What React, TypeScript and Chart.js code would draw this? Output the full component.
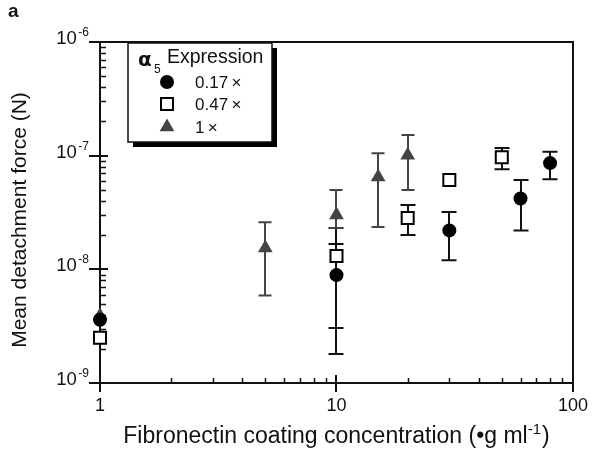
import React, { useEffect, useRef } from "react";
import { Chart, registerables } from "chart.js";
Chart.register(...registerables);

// ---- data ----
const seriesLabels = ["0.17\u2009×", "0.47\u2009×", "1\u2009×"];
const circleX = [1, 10, 30, 60, 80];
const circleY = [3.6e-9, 8.9e-9, 2.2e-8, 4.2e-8, 8.6e-8];
const circleLow = [null, 1.8e-9, 1.2e-8, 2.2e-8, 6.2e-8];
const circleHigh = [null, 1.67e-8, 3.2e-8, 6.1e-8, 1.08e-7];
const squareX = [1, 10, 20, 30, 50];
const squareY = [2.5e-9, 1.31e-8, 2.83e-8, 6.1e-8, 9.7e-8];
const squareLow = [null, 3.05e-9, 2.0e-8, null, 7.6e-8];
const squareHigh = [null, 2.31e-8, 3.68e-8, null, 1.17e-7];
const triangleX = [1, 5, 10, 15, 20];
const triangleY = [3.9e-9, 1.54e-8, 3.0e-8, 6.5e-8, 1.01e-7];
const triangleLow = [null, 5.9e-9, 2.31e-8, 2.36e-8, 4.98e-8];
const triangleHigh = [null, 2.6e-8, 4.98e-8, 1.05e-7, 1.52e-7];
const xTickValues = [1, 10, 100];
const xTickLabels = ["1", "10", "100"];
const yTickValues = [1e-9, 1e-8, 1e-7, 1e-6];
const yTickBase = "10";
const yTickExponents = ["-9", "-8", "-7", "-6"];
const xTitleMain = "Fibronectin coating concentration (•g ml";
const xTitleSup = "-1";
const xTitleEnd = ")";
const yTitle = "Mean detachment force (N)";
const legendGreek = "α";
const legendSub = "5";
const legendTitle = "Expression";
const panelLabel = "a";

const FAMILY = '"Liberation Sans", Arial, Helvetica, sans-serif';
const INK = "#111";
const TRI = "#444";

const errorSets = [
  { xs: circleX, low: circleLow, high: circleHigh, color: INK, cap: 7.5 },
  { xs: squareX, low: squareLow, high: squareHigh, color: INK, cap: 7.5 },
  { xs: triangleX, low: triangleLow, high: triangleHigh, color: TRI, cap: 6.5 },
];

const decorPlugin = {
  id: "decor",
  beforeDatasetsDraw(chart: any) {
    const ctx = chart.ctx as CanvasRenderingContext2D;
    const xs = chart.scales.x;
    const ys = chart.scales.y;
    const { left, right, top, bottom } = chart.chartArea;
    ctx.save();
    ctx.strokeStyle = INK;
    ctx.lineWidth = 2;
    ctx.strokeRect(left, top, right - left, bottom - top);

    // x ticks
    ctx.lineWidth = 1.5;
    for (let d = 1; d < 100; d *= 10) {
      for (let m = 2; m <= 9; m++) {
        const px = Math.round(xs.getPixelForValue(d * m)) + 0.5;
        ctx.beginPath();
        ctx.moveTo(px, bottom);
        ctx.lineTo(px, bottom - 5);
        ctx.stroke();
      }
    }
    ctx.lineWidth = 2;
    xTickValues.forEach((v) => {
      const px = Math.round(xs.getPixelForValue(v));
      ctx.beginPath();
      ctx.moveTo(px, bottom - 8);
      ctx.lineTo(px, bottom + 9);
      ctx.stroke();
    });
    // y ticks
    ctx.lineWidth = 1.5;
    for (let d = 1e-9; d < 1e-6 * 0.99; d *= 10) {
      for (let m = 2; m <= 9; m++) {
        const py = Math.round(ys.getPixelForValue(d * m)) + 0.5;
        ctx.beginPath();
        ctx.moveTo(left, py);
        ctx.lineTo(left + 6, py);
        ctx.stroke();
      }
    }
    ctx.lineWidth = 2;
    yTickValues.forEach((v, i) => {
      const py = Math.round(ys.getPixelForValue(v));
      ctx.beginPath();
      ctx.moveTo(left - 11, py);
      ctx.lineTo(left + 8, py);
      ctx.stroke();
      // label 10^exp
      ctx.fillStyle = INK;
      ctx.textAlign = "right";
      ctx.textBaseline = "alphabetic";
      ctx.font = `12px ${FAMILY}`;
      const ew = ctx.measureText(yTickExponents[i]).width;
      const rx = left - 11;
      ctx.fillText(yTickExponents[i], rx, py - 6);
      ctx.font = `18.5px ${FAMILY}`;
      ctx.fillText(yTickBase, rx - ew - 1.5, py + 2);
    });

    // error bars
    errorSets.forEach((es) => {
      ctx.strokeStyle = es.color;
      ctx.lineWidth = 2;
      es.xs.forEach((xv, j) => {
        const lo = es.low[j];
        const hi = es.high[j];
        if (lo == null || hi == null) return;
        const px = Math.round(xs.getPixelForValue(xv));
        const pl = ys.getPixelForValue(lo);
        const ph = ys.getPixelForValue(hi);
        ctx.beginPath();
        ctx.moveTo(px, pl);
        ctx.lineTo(px, ph);
        ctx.moveTo(px - es.cap, pl);
        ctx.lineTo(px + es.cap, pl);
        ctx.moveTo(px - es.cap, ph);
        ctx.lineTo(px + es.cap, ph);
        ctx.stroke();
      });
    });

    // axis titles
    ctx.fillStyle = INK;
    ctx.textBaseline = "middle";
    ctx.textAlign = "left";
    ctx.font = `23px ${FAMILY}`;
    const mw = ctx.measureText(xTitleMain).width;
    ctx.font = `15px ${FAMILY}`;
    const sw = ctx.measureText(xTitleSup).width;
    ctx.font = `23px ${FAMILY}`;
    const endw = ctx.measureText(xTitleEnd).width;
    const total = mw + sw + 1 + endw;
    const cx = (left + right) / 2;
    let tx = cx - total / 2;
    const ty = 437;
    ctx.fillText(xTitleMain, tx, ty);
    tx += mw;
    ctx.font = `15px ${FAMILY}`;
    ctx.fillText(xTitleSup, tx, ty - 7);
    tx += sw + 1;
    ctx.font = `23px ${FAMILY}`;
    ctx.fillText(xTitleEnd, tx, ty);

    ctx.save();
    ctx.translate(20, 220);
    ctx.rotate(-Math.PI / 2);
    ctx.textAlign = "center";
    ctx.font = `21px ${FAMILY}`;
    ctx.fillText(yTitle, 0, 0);
    ctx.restore();

    // panel label
    ctx.textAlign = "left";
    ctx.textBaseline = "alphabetic";
    ctx.font = `bold 19px ${FAMILY}`;
    ctx.fillText(panelLabel, 8, 17);
    ctx.restore();
  },
  afterDatasetsDraw(chart: any) {
    const ctx = chart.ctx as CanvasRenderingContext2D;
    ctx.save();
    // legend box with shadow
    const bx = 128, by = 43, bw = 144, bh = 99, off = 5;
    ctx.fillStyle = "#000";
    ctx.fillRect(bx + off, by + off, bw, bh);
    ctx.fillStyle = "#fff";
    ctx.fillRect(bx, by, bw, bh);
    ctx.strokeStyle = INK;
    ctx.lineWidth = 1.5;
    ctx.strokeRect(bx, by, bw, bh);

    ctx.fillStyle = INK;
    ctx.textAlign = "left";
    ctx.textBaseline = "alphabetic";
    ctx.font = `bold 20px "DejaVu Sans", "Liberation Sans", sans-serif`;
    ctx.fillText(legendGreek, 138, 66);
    ctx.font = `12px ${FAMILY}`;
    ctx.fillText(legendSub, 154, 73);
    ctx.font = `19.5px ${FAMILY}`;
    ctx.fillText(legendTitle, 167, 63);

    const mx = 167;
    const rows = [82, 104, 127];
    // circle
    ctx.fillStyle = "#000";
    ctx.beginPath();
    ctx.arc(mx, rows[0], 7, 0, Math.PI * 2);
    ctx.fill();
    // square
    ctx.fillStyle = "#fff";
    ctx.strokeStyle = "#000";
    ctx.lineWidth = 2;
    ctx.fillRect(mx - 6, rows[1] - 6, 12, 12);
    ctx.strokeRect(mx - 6, rows[1] - 6, 12, 12);
    // triangle
    ctx.fillStyle = TRI;
    ctx.beginPath();
    const r = 8.5;
    ctx.moveTo(mx, rows[2] - r);
    ctx.lineTo(mx + r * 0.866, rows[2] + r / 2);
    ctx.lineTo(mx - r * 0.866, rows[2] + r / 2);
    ctx.closePath();
    ctx.fill();

    ctx.fillStyle = INK;
    ctx.textBaseline = "middle";
    ctx.font = `17px ${FAMILY}`;
    seriesLabels.forEach((lab, i) => ctx.fillText(lab, 195, rows[i] + 1));
    ctx.restore();
  },
};

export default function App() {
  const ref = useRef<HTMLCanvasElement | null>(null);
  useEffect(() => {
    const canvas = ref.current;
    if (!canvas) return;
    const toPts = (xs: number[], ys: number[]) => xs.map((x, i) => ({ x, y: ys[i] }));
    const chart = new Chart(canvas, {
      type: "scatter",
      data: {
        datasets: [
          {
            label: seriesLabels[0],
            data: toPts(circleX, circleY),
            pointStyle: "circle",
            pointRadius: 7,
            backgroundColor: "#000",
            borderColor: "#000",
            borderWidth: 0,
            clip: false,
          },
          {
            label: seriesLabels[1],
            data: toPts(squareX, squareY),
            pointStyle: "rect",
            pointRadius: 8.5,
            backgroundColor: "#fff",
            borderColor: "#000",
            borderWidth: 2,
            clip: false,
          },
          {
            label: seriesLabels[2],
            data: toPts(triangleX, triangleY),
            pointStyle: "triangle",
            pointRadius: 8.5,
            backgroundColor: TRI,
            borderColor: TRI,
            borderWidth: 0,
            clip: false,
          },
        ] as any,
      },
      options: {
        animation: false,
        responsive: false,
        devicePixelRatio: 1,
        events: [],
        layout: { padding: { left: 0, right: 20, top: 42, bottom: 0 } },
        plugins: { legend: { display: false }, tooltip: { enabled: false } },
        scales: {
          x: {
            type: "logarithmic",
            min: 1,
            max: 100,
            position: "bottom",
            grid: { display: false, drawTicks: false },
            border: { display: false },
            afterBuildTicks: (s: any) => {
              s.ticks = xTickValues.map((v) => ({ value: v }));
            },
            ticks: {
              autoSkip: false,
              maxRotation: 0,
              padding: 12,
              color: INK,
              font: { family: FAMILY, size: 18 },
              callback: (_v: any, i: number) => xTickLabels[i],
            },
            afterFit: (s: any) => {
              s.height = 67;
            },
          },
          y: {
            type: "logarithmic",
            min: 1e-9,
            max: 1e-6,
            grid: { display: false, drawTicks: false },
            border: { display: false },
            afterBuildTicks: (s: any) => {
              s.ticks = yTickValues.map((v) => ({ value: v }));
            },
            ticks: { display: false },
            afterFit: (s: any) => {
              s.width = 100;
            },
          },
        },
      } as any,
      plugins: [decorPlugin],
    });
    return () => chart.destroy();
  }, []);
  return (
    <div style={{ position: "fixed", left: 0, top: 0, width: 600, height: 450, background: "#fff" }}>
      <canvas ref={ref} width={600} height={450} style={{ display: "block" }} />
    </div>
  );
}
